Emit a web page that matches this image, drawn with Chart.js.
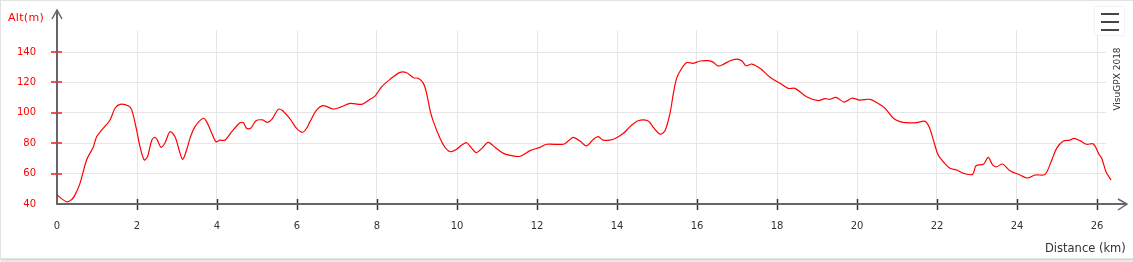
<!DOCTYPE html>
<html>
<head>
<meta charset="utf-8">
<script src="https://cdn.jsdelivr.net/npm/chart.js@4/dist/chart.umd.min.js"></script>
<style>
  body { margin: 0; background: #fff; overflow: hidden; }
  #box {
    position: absolute; left: 0; top: 0; width: 1140px; height: 257px;
    border: 1px solid #e2e2e2; box-shadow: 0 2px 3px rgba(0,0,0,0.18);
    background: #fff;
  }
  #wrap { position: absolute; left: 0; top: 0; width: 1133px; height: 262px; }
  .lbl { position: absolute; font-family: "DejaVu Sans", Verdana, sans-serif; white-space: nowrap; }
  #altLabel { left: 8px; top: 11px; font-size: 11px; color: #ff0000; letter-spacing: 0.3px; }
  #distLabel { left: 1045px; top: 241px; font-size: 11.5px; color: #333; }
  #credit { left: 1117px; top: 79px; font-size: 9px; color: #333;
    transform: translate(-50%, -50%) rotate(-90deg); }
  #menu {
    position: absolute; left: 1095px; top: 7px; width: 29px; height: 28px;
    background: #fff; box-shadow: 0 0 2px rgba(0,0,0,0.15);
  }
  #menu span { position: absolute; left: 6px; width: 18px; height: 2px; background: #444; }
</style>
</head>
<body>
<div id="box"></div>
<div id="wrap"><canvas id="chart"></canvas></div>
<div class="lbl" id="altLabel">Alt(m)</div>
<div class="lbl" id="distLabel">Distance (km)</div>
<div class="lbl" id="credit">VisuGPX 2018</div>
<div id="menu"><span style="top:6px"></span><span style="top:14px"></span><span style="top:22px"></span></div>
<script>
// profile: distance (km) and altitude (m)
const distances = [0, 0.24, 0.37, 0.45, 0.575, 0.74, 0.91, 0.99, 1.12, 1.325,
  1.45, 1.575, 1.78, 1.87, 1.99, 2.075, 2.18, 2.26, 2.37, 2.45,
  2.51, 2.6, 2.7, 2.825, 2.95, 3.03, 3.14, 3.24, 3.325, 3.45,
  3.66, 3.74, 3.87, 3.975, 4.075, 4.2, 4.37, 4.575, 4.66, 4.74,
  4.84, 4.975, 5.14, 5.26, 5.37, 5.53, 5.62, 5.825, 5.99, 6.14,
  6.24, 6.325, 6.49, 6.66, 6.91, 7.075, 7.325, 7.62, 7.825, 7.95,
  8.12, 8.325, 8.575, 8.74, 8.91, 9.03, 9.16, 9.24, 9.325, 9.41,
  9.575, 9.7, 9.84, 9.99, 10.12, 10.24, 10.37, 10.475, 10.62, 10.78,
  10.95, 11.16, 11.37, 11.575, 11.825, 12.075, 12.24, 12.66, 12.78, 12.91,
  13.075, 13.24, 13.41, 13.53, 13.66, 13.91, 14.16, 14.325, 14.53, 14.78,
  14.91, 15.075, 15.2, 15.325, 15.41, 15.49, 15.62, 15.74, 15.91, 16.075,
  16.28, 16.41, 16.53, 16.66, 16.825, 16.99, 17.12, 17.225, 17.37, 17.575,
  17.825, 18.075, 18.28, 18.45, 18.74, 19.03, 19.2, 19.325, 19.475, 19.675,
  19.87, 20.075, 20.325, 20.49, 20.7, 20.91, 21.075, 21.24, 21.49, 21.7,
  21.81, 21.91, 22.03, 22.16, 22.325, 22.49, 22.66, 22.89, 22.975, 23.16,
  23.28, 23.39, 23.49, 23.64, 23.825, 24.075, 24.26, 24.45, 24.7, 24.87,
  24.99, 25.16, 25.325, 25.425, 25.575, 25.74, 25.91, 26.06, 26.12, 26.225,
  26.35];
const altitudes = [45.9, 41.5, 43, 46, 53.6, 69, 77.7, 84.3, 88.7, 95.3,
  103, 105.6, 104.7, 101.8, 88.7, 77.7, 69, 71, 82, 83.8,
  82, 77.3, 80.3, 87.6, 84.3, 77.7, 69.4, 75.5, 83.2, 90.9,
  96.4, 94.2, 86.5, 81, 82, 82, 87.6, 93.5, 93.5, 89.8,
  89.8, 94.8, 95.3, 93.7, 95.7, 102.3, 101.8, 96, 89.8, 87.2,
  89.8, 94.2, 101.8, 104.7, 102.5, 103.6, 106.2, 105.6, 108.9, 111,
  117.2, 122, 126.6, 126.4, 123.1, 122.7, 119.4, 112.8, 101.8, 94.2,
  83.2, 77.3, 74.4, 76, 78.8, 80.3, 76.6, 73.8, 76.6, 80.6,
  77.3, 73.3, 71.8, 71.4, 75.1, 77.3, 79.3, 79.3, 81.4, 83.8,
  81.4, 78.2, 82.6, 84.3, 82, 82.6, 86.5, 90.9, 94.8, 94.6,
  90.4, 86, 88.2, 99.7, 112.8, 122.7, 129.3, 133, 132.6, 134.1,
  134.3, 133.2, 130.8, 131.9, 134.3, 135.4, 134.3, 131, 132.1, 129.3,
  123.4, 119.4, 116.1, 116.1, 110.6, 108, 109.3, 108.9, 110.2, 107.1,
  109.6, 108.4, 108.9, 106.8, 103, 96.4, 94.2, 93.5, 93.5, 94.4,
  90.4, 82, 72.2, 67.8, 63.5, 62.4, 60.2, 59.5, 65.2, 66.1,
  70.7, 65.7, 64.5, 66.3, 61.9, 59.1, 57.1, 59.1, 59.5, 69,
  76.6, 81.4, 82, 83.2, 81.7, 79.3, 79.5, 72.2, 70, 61.2,
  55.8];
const yTicks = [40, 60, 80, 100, 120, 140];
const xTicks = [0, 2, 4, 6, 8, 10, 12, 14, 16, 18, 20, 22, 24, 26];

const points = distances.map((d, i) => ({ x: d, y: altitudes[i] }));

// axis lines with arrows and the little tick marks across them
const axesPlugin = {
  id: "axes",
  beforeDatasetsDraw(chart) {
    const ctx = chart.ctx;
    const x = chart.scales.x, y = chart.scales.y;
    const x0 = x.getPixelForValue(0), y0 = y.getPixelForValue(40);
    ctx.save();
    ctx.strokeStyle = "#ff4d4d";
    ctx.lineWidth = 2;
    yTicks.forEach((v) => {
      if (v === 40) return;
      const py = Math.round(y.getPixelForValue(v));
      ctx.beginPath(); ctx.moveTo(x0 - 6, py); ctx.lineTo(x0 + 5, py); ctx.stroke();
    });
    ctx.strokeStyle = "#333";
    ctx.lineWidth = 1.5;
    xTicks.forEach((v) => {
      if (v === 0) return;
      const px = Math.round(x.getPixelForValue(v)) + 0.5;
      ctx.beginPath(); ctx.moveTo(px, y0 - 5); ctx.lineTo(px, y0 + 6); ctx.stroke();
    });
    ctx.strokeStyle = "#666";
    ctx.lineWidth = 2;
    ctx.beginPath();
    ctx.moveTo(x0, 10); ctx.lineTo(x0, y0); ctx.lineTo(1127, y0);
    ctx.stroke();
    ctx.lineWidth = 1.5;
    ctx.beginPath();
    ctx.moveTo(x0 - 5, 19); ctx.lineTo(x0, 10); ctx.lineTo(x0 + 5, 19);
    ctx.moveTo(1118, y0 - 5); ctx.lineTo(1127, y0); ctx.lineTo(1118, y0 + 6);
    ctx.stroke();
    ctx.restore();
  }
};

new Chart(document.getElementById("chart"), {
  type: "line",
  data: {
    datasets: [{
      data: points,
      borderColor: "#ff0000",
      borderWidth: 1.2,
      pointRadius: 0,
      tension: 0.3,
      fill: false,
      clip: false
    }]
  },
  options: {
    responsive: true,
    maintainAspectRatio: false,
    animation: false,
    events: [],
    parsing: false,
    layout: { padding: { top: 30, right: 27, left: 0, bottom: 0 } },
    plugins: { legend: { display: false }, tooltip: { enabled: false } },
    scales: {
      x: {
        type: "linear",
        // range set in the hook, not as min/max, so the last point past the grid still gets drawn
        afterBuildTicks: (s) => {
          s.min = 0;
          s.max = 26.225;
          s.ticks = xTicks.map((v) => ({ value: v }));
        },
        afterFit: (s) => { s.height = 58; },
        border: { display: false },
        grid: {
          drawTicks: false,
          color: (c) => (c.tick && c.tick.value === 0 ? "rgba(0,0,0,0)" : "#e6e6e6")
        },
        ticks: {
          padding: 16,
          color: "#333",
          font: { family: "DejaVu Sans", size: 10 },
          maxRotation: 0
        }
      },
      y: {
        min: 40,
        max: 154.5,
        afterBuildTicks: (s) => { s.ticks = yTicks.map((v) => ({ value: v })); },
        afterFit: (s) => { s.width = 57; },
        border: { display: false },
        grid: {
          drawTicks: false,
          color: (c) => (c.tick && c.tick.value === 40 ? "rgba(0,0,0,0)" : "#e6e6e6")
        },
        ticks: {
          padding: 21,
          color: "#ff0000",
          font: { family: "DejaVu Sans", size: 10 }
        }
      }
    }
  },
  plugins: [axesPlugin]
});
</script>
</body>
</html>
